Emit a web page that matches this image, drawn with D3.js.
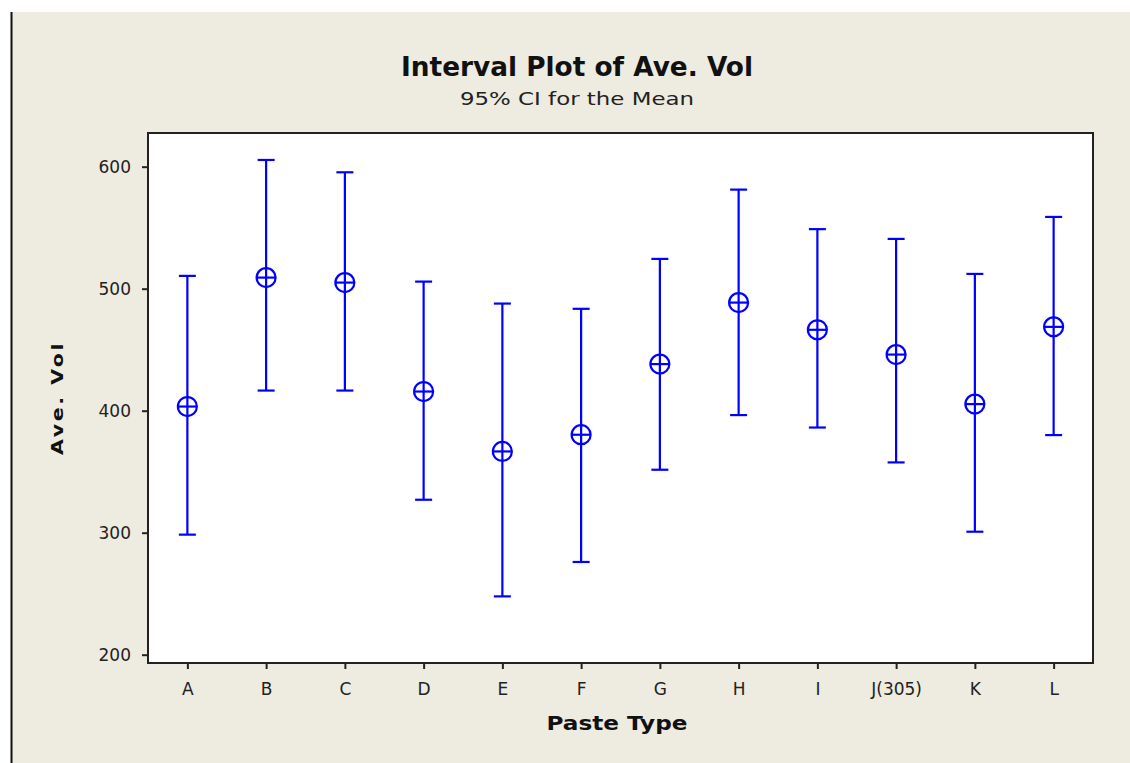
<!DOCTYPE html>
<html><head><meta charset="utf-8">
<script src="https://cdn.jsdelivr.net/npm/d3@7"></script>
<style>body{margin:0;background:#fff}svg{display:block}</style>
</head><body>
<script>
const categories = ["A","B","C","D","E","F","G","H","I","J(305)","K","L"];
const means  = [403.4, 509.1, 505.0, 415.7, 366.6, 380.3, 438.2, 488.6, 466.3, 446.0, 405.4, 468.7];
const uppers = [510.5, 605.5, 595.4, 505.8, 487.8, 483.5, 524.4, 581.2, 548.8, 540.8, 512.1, 558.8];
const lowers = [298.4, 416.5, 416.5, 327.0, 247.8, 276.0, 351.6, 396.4, 386.2, 357.6, 300.8, 380.0];
const yTicks = [200, 300, 400, 500, 600];

const W = 1130, H = 763;
const frame = {l:148, t:133, r:1093, b:663};
const svg = d3.select("body").append("svg").attr("width", W).attr("height", H);

svg.append("rect").attr("x",12).attr("y",12).attr("width",W-12).attr("height",H-12).attr("fill","#eeebe1");
svg.append("line").attr("x1",11.5).attr("x2",11.5).attr("y1",12).attr("y2",H).attr("stroke","#111").attr("stroke-width",2);

svg.append("rect").attr("x",frame.l).attr("y",frame.t).attr("width",frame.r-frame.l).attr("height",frame.b-frame.t)
  .attr("fill","#fff").attr("stroke","#222").attr("stroke-width",2);

const x = d3.scalePoint().domain(categories).range([frame.l, frame.r]).padding(0.5);
const y = d3.scaleLinear().domain([193.2, 627.6]).range([frame.b, frame.t]);

const font = "Tahoma, 'DejaVu Sans', Verdana, sans-serif";

const yAxis = svg.append("g").attr("transform",`translate(${frame.l},0)`)
  .call(d3.axisLeft(y).tickValues(yTicks).tickSize(6).tickPadding(11).tickSizeOuter(0));
yAxis.select(".domain").remove();
yAxis.selectAll("line").attr("stroke","#222").attr("stroke-width",2);
yAxis.selectAll("text").attr("font-family",font).attr("font-size",17).attr("fill","#222");

const xAxis = svg.append("g").attr("transform",`translate(0,${frame.b})`)
  .call(d3.axisBottom(x).tickSize(6).tickPadding(14).tickSizeOuter(0));
xAxis.select(".domain").remove();
xAxis.selectAll("line").attr("stroke","#222").attr("stroke-width",2);
xAxis.selectAll("text").attr("font-family",font).attr("font-size",17).attr("fill","#222");

const data = categories.map((c,i)=>({c, m:means[i], u:uppers[i], lo:lowers[i]}));
const g = svg.append("g").attr("stroke","#0000ff").attr("stroke-width",2.2).attr("fill","none");
const cap = 8.5, r = 9.5;
data.forEach(d=>{
  const cx = x(d.c);
  g.append("line").attr("x1",cx).attr("x2",cx).attr("y1",y(d.u)).attr("y2",y(d.lo));
  g.append("line").attr("x1",cx-cap).attr("x2",cx+cap).attr("y1",y(d.u)).attr("y2",y(d.u));
  g.append("line").attr("x1",cx-cap).attr("x2",cx+cap).attr("y1",y(d.lo)).attr("y2",y(d.lo));
  g.append("circle").attr("cx",cx).attr("cy",y(d.m)).attr("r",r).attr("fill","#fff");
  g.append("line").attr("x1",cx-r).attr("x2",cx+r).attr("y1",y(d.m)).attr("y2",y(d.m));
  g.append("line").attr("x1",cx).attr("x2",cx).attr("y1",y(d.m)-r).attr("y2",y(d.m)+r);
});

svg.append("text").attr("x",577).attr("y",76).attr("text-anchor","middle")
  .attr("font-family",font).attr("font-weight","bold").attr("font-size",27).attr("fill","#111")
  .attr("textLength",352).attr("lengthAdjust","spacingAndGlyphs")
  .text("Interval Plot of Ave. Vol");
svg.append("text").attr("x",577).attr("y",105).attr("text-anchor","middle")
  .attr("font-family",font).attr("font-size",18).attr("fill","#222")
  .attr("textLength",234).attr("lengthAdjust","spacingAndGlyphs")
  .text("95% CI for the Mean");

svg.append("text").attr("x",617).attr("y",730).attr("text-anchor","middle")
  .attr("font-family",font).attr("font-weight","bold").attr("font-size",19).attr("fill","#111")
  .attr("textLength",141).attr("lengthAdjust","spacingAndGlyphs")
  .text("Paste Type");
svg.append("text").attr("transform","translate(63,398) rotate(-90)").attr("text-anchor","middle")
  .attr("font-family",font).attr("font-weight","bold").attr("font-size",16).attr("fill","#111")
  .attr("letter-spacing",2).attr("textLength",114).attr("lengthAdjust","spacingAndGlyphs")
  .text("Ave. Vol");
</script>
</body></html>
